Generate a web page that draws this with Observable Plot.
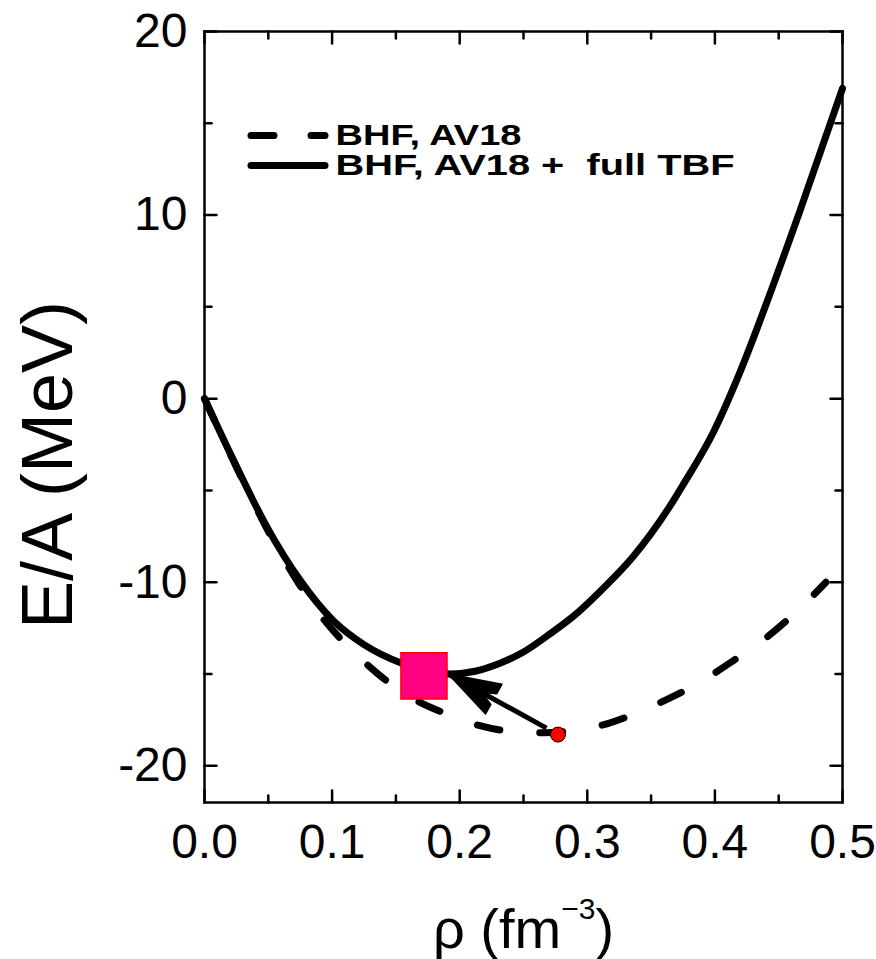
<!DOCTYPE html>
<html>
<head>
<meta charset="utf-8">
<script src="https://cdn.jsdelivr.net/npm/d3@7"></script>
<script src="https://cdn.jsdelivr.net/npm/@observablehq/plot@0.6"></script>
<style>
  body { margin: 0; background: #fff; }
  svg { font-family: "Liberation Sans", Arial, sans-serif; }
</style>
</head>
<body>
<div id="chart"></div>
<script>
// ---- data ----
const rhoAV18 = [0, 0.02, 0.036, 0.049, 0.061, 0.075, 0.092, 0.117, 0.136, 0.165, 0.187, 0.215, 0.237, 0.266, 0.287, 0.316, 0.336, 0.365, 0.387, 0.416, 0.437, 0.467, 0.487];
const eAV18   = [0, -3.0, -5.3, -7.1, -8.6, -10.2, -11.9, -13.8, -15.0, -16.4, -17.1, -17.8, -18.1, -18.2, -18.1, -17.7, -17.2, -16.3, -15.5, -14.2, -13.2, -11.4, -10.0];

const rhoTBF = [0, 0.023, 0.049, 0.075, 0.101, 0.125, 0.154, 0.175, 0.193, 0.212, 0.232, 0.25, 0.271, 0.29, 0.31, 0.336, 0.368, 0.375, 0.399, 0.42, 0.441, 0.467, 0.5];
const eTBF   = [0, -3.4, -7.0, -9.9, -12.1, -13.4, -14.4, -14.85, -15.0, -14.85, -14.4, -13.8, -12.8, -11.8, -10.5, -8.6, -5.5, -4.7, -1.8, 1.5, 5.3, 10.3, 16.9];

const saturationRho = [0.172];   // empirical saturation point (square)
const saturationE   = [-15.1];
const av18MinRho = [0.277];      // AV18 saturation point (red dot)
const av18MinE   = [-18.3];
const arrowRho = [0.268, 0.191]; // from, to
const arrowE   = [-17.95, -15.0];

const xMajor = [0, 0.1, 0.2, 0.3, 0.4, 0.5];
const xMinor = [0.05, 0.15, 0.25, 0.35, 0.45];
const yMajor = [-20, -10, 0, 10, 20];
const yMinor = [-15, -5, 5, 15];
const xTickLabels = ["0.0", "0.1", "0.2", "0.3", "0.4", "0.5"];
const yTickLabels = ["-20", "-10", "0", "10", "20"];
const legendLabels = ["BHF, AV18", "BHF, AV18 +  full TBF"];
const yLabel = "E/A (MeV)";
const xLabelParts = ["\u03c1 (fm", "\u22123", ")"];

// ---- layout ----
const width = 876, height = 959;
const margin = {top: 31, right: 34, bottom: 157, left: 204};
const xDomain = [0, 0.5], yDomain = [-22, 20];

const avData = rhoAV18.map((r, i) => ({rho: r, e: eAV18[i]}));
const tbfData = rhoTBF.map((r, i) => ({rho: r, e: eTBF[i]}));

const xs = Plot.scale({x: {domain: xDomain, range: [margin.left, width - margin.right]}});
const ys = Plot.scale({y: {domain: yDomain, range: [height - margin.bottom, margin.top]}});
const pdx = xs.apply(arrowRho[1]) - xs.apply(arrowRho[0]);
const pdy = ys.apply(arrowE[1]) - ys.apply(arrowE[0]);
const headRotate = Math.atan2(pdx, -pdy) * 180 / Math.PI;

const tickShape = {draw(ctx, l) { ctx.moveTo(0, 0); ctx.lineTo(0, -l); }};
const headShape = {draw(ctx, l) {
  ctx.moveTo(0, -l);
  ctx.lineTo(-17, 0); ctx.lineTo(-6, 0);
  ctx.lineTo(0, -14);
  ctx.lineTo(6, 0); ctx.lineTo(17, 0);
  ctx.closePath();
}};
const tickStyle = {stroke: "black", strokeWidth: 2.5, shape: tickShape, anchor: "start"};

function xTicks(values, len) {
  return [
    Plot.vector(values, {x: d => d, y: yDomain[0], rotate: 0, length: len, ...tickStyle}),
    Plot.vector(values, {x: d => d, y: yDomain[1], rotate: 180, length: len, ...tickStyle})
  ];
}
function yTicks(values, len) {
  return [
    Plot.vector(values, {x: xDomain[0], y: d => d, rotate: 90, length: len, ...tickStyle}),
    Plot.vector(values, {x: xDomain[1], y: d => d, rotate: -90, length: len, ...tickStyle})
  ];
}

const plot = Plot.plot({
  width, height,
  marginTop: margin.top, marginRight: margin.right, marginBottom: margin.bottom, marginLeft: margin.left,
  x: {domain: xDomain},
  y: {domain: yDomain},
  style: {fontFamily: "Liberation Sans, Arial, sans-serif", color: "black", background: "white"},
  marks: [
    Plot.axisX({ticks: xMajor, tickSize: 0, tickPadding: 21, fontSize: 48, label: null,
      tickFormat: d => xTickLabels[xMajor.indexOf(d)]}),
    Plot.axisY({ticks: yMajor, tickSize: 0, tickPadding: 17, fontSize: 48, label: null,
      tickFormat: d => yTickLabels[yMajor.indexOf(d)]}),
    ...xTicks(xMajor, 12), ...xTicks(xMinor, 7),
    ...yTicks(yMajor, 12), ...yTicks(yMinor, 7),
    Plot.frame({stroke: "black", strokeWidth: 2.5}),
    // curves
    Plot.line(avData, {x: "rho", y: "e", curve: "monotone-x", stroke: "black", strokeWidth: 7,
      strokeDasharray: "23,40", strokeLinecap: "round"}),
    Plot.line(tbfData, {x: "rho", y: "e", curve: "monotone-x", stroke: "black", strokeWidth: 7}),
    // arrow
    Plot.link([0], {x1: arrowRho[0], y1: arrowE[0], x2: arrowRho[1], y2: arrowE[1], stroke: "black", strokeWidth: 5}),
    Plot.vector([0], {x: arrowRho[1], y: arrowE[1], rotate: headRotate, length: 52, anchor: "end",
      shape: headShape, fill: "black", stroke: "black", strokeWidth: 1.5, strokeLinejoin: "round"}),
    // points
    Plot.dot(saturationRho, {x: d => d, y: (d, i) => saturationE[i], symbol: "square", r: 26,
      fill: "#ff0080", stroke: "#ff0000", strokeWidth: 1.5}),
    Plot.dot(av18MinRho, {x: d => d, y: (d, i) => av18MinE[i], r: 7.5,
      fill: "#ff0000", stroke: "black", strokeWidth: 1}),
    // legend
    Plot.vector([0], {frameAnchor: "top-left", dx: 46.5, dy: 104, rotate: 90, length: 74, anchor: "start",
      shape: tickShape, stroke: "black", strokeWidth: 7, strokeDasharray: "23,37", strokeLinecap: "round"}),
    Plot.vector([0], {frameAnchor: "top-left", dx: 46.5, dy: 134, rotate: 90, length: 74, anchor: "start",
      shape: tickShape, stroke: "black", strokeWidth: 7, strokeLinecap: "round"}),
    Plot.text([legendLabels[0]], {frameAnchor: "top-left", dx: 131, dy: 104, textAnchor: "start",
      lineAnchor: "middle", fontSize: 30, fontWeight: "bold"}),
    Plot.text([legendLabels[1]], {frameAnchor: "top-left", dx: 131, dy: 134, textAnchor: "start",
      lineAnchor: "middle", fontSize: 30, fontWeight: "bold"}),
    // axis labels
    Plot.text([yLabel], {frameAnchor: "left", dx: -133, dy: 48, rotate: -90, textAnchor: "middle",
      lineAnchor: "bottom", fontSize: 72}),
    Plot.text([xLabelParts.join("")], {frameAnchor: "bottom", dy: 145, textAnchor: "middle",
      lineAnchor: "bottom", fontSize: 56})
  ]
});

// superscript in x label
const ns = "http://www.w3.org/2000/svg";
const allText = Array.from(plot.querySelectorAll("text"));
const xl = allText.find(t => t.textContent === xLabelParts.join(""));
if (xl) {
  xl.textContent = "";
  const parts = [
    {t: xLabelParts[0], attrs: {}},
    {t: xLabelParts[1], attrs: {dy: "-29", "font-size": "30"}},
    {t: xLabelParts[2], attrs: {dy: "29"}}
  ];
  for (const p of parts) {
    const ts = document.createElementNS(ns, "tspan");
    for (const [k, v] of Object.entries(p.attrs)) ts.setAttribute(k, v);
    ts.textContent = p.t;
    xl.appendChild(ts);
  }
}
// stretch legend text like the reference
[[legendLabels[0], 186], [legendLabels[1], 399]].forEach(([lab, len]) => {
  const t = allText.find(el => el.textContent === lab);
  if (t) { t.setAttribute("textLength", len); t.setAttribute("lengthAdjust", "spacingAndGlyphs"); }
});

document.getElementById("chart").append(plot);
</script>
</body>
</html>
